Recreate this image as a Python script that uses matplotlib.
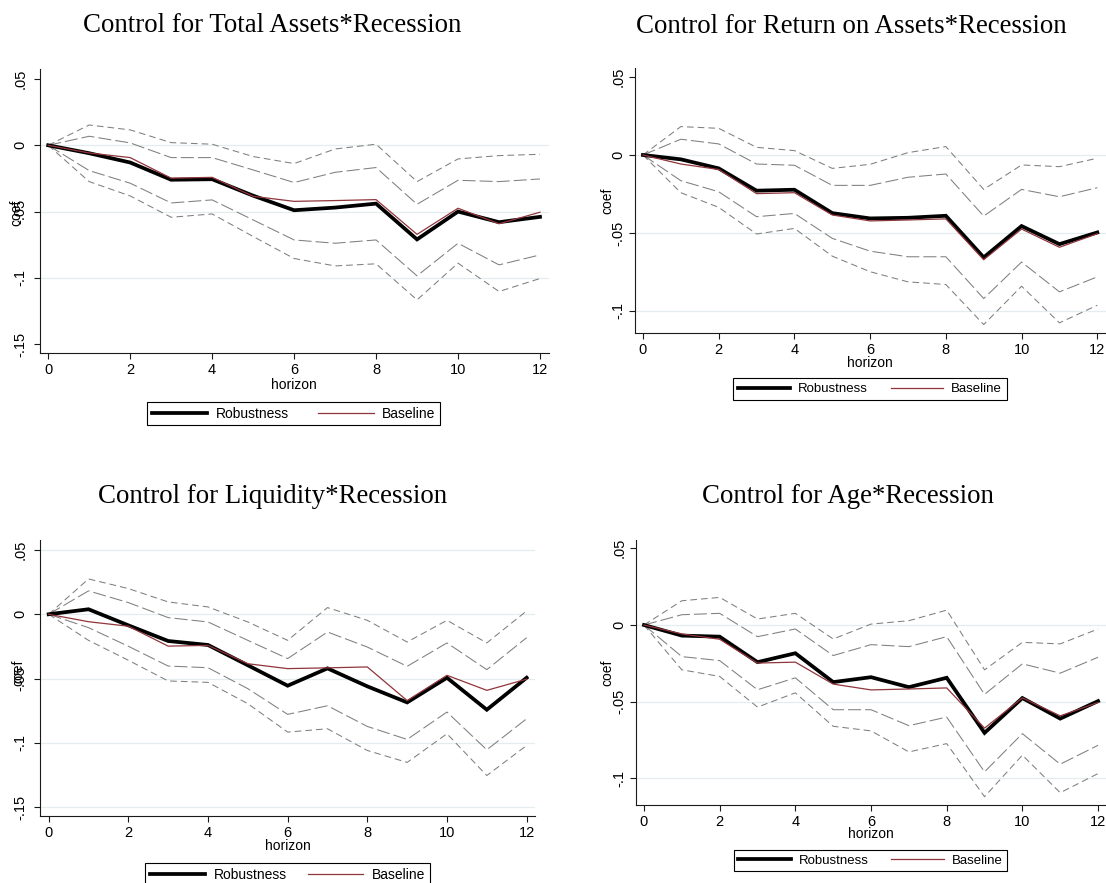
import matplotlib
matplotlib.use("Agg")
import matplotlib.pyplot as plt
from matplotlib.lines import Line2D

plt.rcParams['font.family'] = ['Liberation Sans', 'DejaVu Sans']
plt.rcParams['lines.scale_dashes'] = False

# ---------------------------------------------------------------- data
horizon = list(range(13))
y_ticks_long = [0.05, 0.0, -0.05, -0.1, -0.15]
y_labels_long = [".05", "0", "-.05", "-.1", "-.15"]
y_ticks_short = [0.05, 0.0, -0.05, -0.1]
y_labels_short = [".05", "0", "-.05", "-.1"]
x_ticks = [0, 2, 4, 6, 8, 10, 12]

baseline = [0, -0.0058, -0.0093, -0.0248, -0.0242, -0.0385, -0.0423,
            -0.0417, -0.0410, -0.0672, -0.0475, -0.0592, -0.0505]

# Total assets * recession
ta_coef = [0, -0.0060, -0.0130, -0.0260, -0.0256, -0.0380, -0.0490,
           -0.0470, -0.0440, -0.0710, -0.0500, -0.0580, -0.0540]
ta_hi_out = [0, 0.0153, 0.0116, 0.0020, 0.0008, -0.0085, -0.0138,
             -0.0028, 0.0008, -0.0274, -0.0103, -0.0078, -0.0068]
ta_hi_in = [0, 0.0068, 0.0018, -0.0093, -0.0093, -0.0186, -0.0281,
            -0.0204, -0.0168, -0.0445, -0.0264, -0.0274, -0.0254]
ta_lo_in = [0, -0.0191, -0.0286, -0.0435, -0.0412, -0.0563, -0.0714,
            -0.0739, -0.0714, -0.0985, -0.0739, -0.0902, -0.0827]
ta_lo_out = [0, -0.0274, -0.0382, -0.0543, -0.0518, -0.0688, -0.0854,
             -0.0910, -0.0894, -0.1166, -0.0889, -0.1103, -0.1005]

# Return on assets * recession
roa_coef = [0, -0.0028, -0.0086, -0.0229, -0.0223, -0.0373, -0.0407,
            -0.0403, -0.0390, -0.0657, -0.0456, -0.0572, -0.0497]
roa_hi_out = [0, 0.0182, 0.0171, 0.0049, 0.0028, -0.0086, -0.0060,
              0.0015, 0.0054, -0.0221, -0.0064, -0.0075, -0.0021]
roa_hi_in = [0, 0.0101, 0.0071, -0.0058, -0.0066, -0.0195, -0.0195,
             -0.0143, -0.0122, -0.0392, -0.0221, -0.0268, -0.0210]
roa_lo_in = [0, -0.0165, -0.0236, -0.0396, -0.0375, -0.0535, -0.0617,
             -0.0653, -0.0653, -0.0921, -0.0687, -0.0878, -0.0782]
roa_lo_out = [0, -0.0242, -0.0336, -0.0507, -0.0471, -0.0649, -0.0749,
              -0.0814, -0.0831, -0.1088, -0.0842, -0.1077, -0.0964]

# Liquidity * recession
liq_coef = [0, 0.0039, -0.0086, -0.0208, -0.0239, -0.0397, -0.0556,
            -0.0421, -0.0561, -0.0686, -0.0494, -0.0743, -0.0494]
liq_hi_out = [0, 0.0275, 0.0200, 0.0096, 0.0057, -0.0060, -0.0203,
              0.0052, -0.0047, -0.0216, -0.0047, -0.0223, 0.0026]
liq_hi_in = [0, 0.0182, 0.0091, -0.0026, -0.0060, -0.0203, -0.0345,
             -0.0138, -0.0255, -0.0405, -0.0223, -0.0431, -0.0182]
liq_lo_in = [0, -0.0104, -0.0249, -0.0403, -0.0416, -0.0579, -0.0779,
             -0.0712, -0.0873, -0.0974, -0.0761, -0.1055, -0.0813]
liq_lo_out = [0, -0.0203, -0.0358, -0.0519, -0.0530, -0.0696, -0.0917,
              -0.0891, -0.1060, -0.1153, -0.0930, -0.1255, -0.1021]

# Age * recession
age_coef = [0, -0.0069, -0.0076, -0.0242, -0.0184, -0.0372, -0.0340,
            -0.0405, -0.0344, -0.0703, -0.0476, -0.0610, -0.0496]
age_hi_out = [0, 0.0158, 0.0180, 0.0039, 0.0076, -0.0091, 0.0006,
              0.0028, 0.0097, -0.0292, -0.0113, -0.0123, -0.0026]
age_hi_in = [0, 0.0067, 0.0076, -0.0076, -0.0026, -0.0199, -0.0128,
             -0.0141, -0.0076, -0.0452, -0.0253, -0.0314, -0.0210]
age_lo_in = [0, -0.0206, -0.0232, -0.0422, -0.0344, -0.0552, -0.0552,
             -0.0656, -0.0600, -0.0957, -0.0708, -0.0907, -0.0784]
age_lo_out = [0, -0.0292, -0.0335, -0.0535, -0.0442, -0.0660, -0.0690,
              -0.0827, -0.0773, -0.1119, -0.0848, -0.1093, -0.0968]

# ---------------------------------------------------------------- style
W, H = 1106, 883
BLACK = "#000000"
RED = "#90353B"
GREY = "#7F7F7F"
GRID = "#E3ECEE"
SHORT_DASH = (0, (4.8, 2.9))
LONG_DASH = (0, (9.4, 2.9))

fig = plt.figure(figsize=(W / 100, H / 100), dpi=100)
fig.patch.set_facecolor("white")


def px_axes(left, right, top, bottom):
    return fig.add_axes([left / W, 1 - bottom / H, (right - left) / W,
                         (bottom - top) / H])


panels = [
    dict(title="Control for Total Assets*Recession", title_x=272.5, title_base=32.3,
         box=(40, 549, 69.3, 353.3), xlim=(-0.2, 12.22), ylim=(-0.1569, 0.0573),
         yt=y_ticks_long, yl=y_labels_long, grid=[0.0, -0.05, -0.1],
         coef=ta_coef, bands=(ta_hi_out, ta_hi_in, ta_lo_in, ta_lo_out),
         ylab=(16, 213), xlab_dy=31.7, ypad=4.3, fs=10.5,
         leg=(147, 401.7), leg_fs=10, colsp=2.1),
    dict(title="Control for Return on Assets*Recession", title_x=851.5, title_base=32.7,
         box=(634.5, 1106, 68, 333.3), xlim=(-0.224, 12.23), ylim=(-0.1144, 0.0558),
         yt=y_ticks_short, yl=y_labels_short, grid=[0.0, -0.05, -0.1],
         coef=roa_coef, bands=(roa_hi_out, roa_hi_in, roa_lo_in, roa_lo_out),
         ylab=(607.5, 201), xlab_dy=29.4, ypad=2.0, fs=10.5,
         leg=(733, 378.3), leg_fs=9.5, colsp=1.7),
    dict(title="Control for Liquidity*Recession", title_x=272.8, title_base=503.3,
         box=(40, 535, 540, 816), xlim=(-0.218, 12.21), ylim=(-0.157, 0.0578),
         yt=y_ticks_long, yl=y_labels_long, grid=[0.05, 0.0, -0.05, -0.1, -0.15],
         coef=liq_coef, bands=(liq_hi_out, liq_hi_in, liq_lo_in, liq_lo_out),
         ylab=(18, 673), xlab_dy=30, ypad=4.3, fs=10.5,
         leg=(145, 862.7), leg_fs=10, colsp=1.5),
    dict(title="Control for Age*Recession", title_x=848, title_base=503.3,
         box=(635.9, 1106, 540, 805), xlim=(-0.214, 12.21), ylim=(-0.1173, 0.0554),
         yt=y_ticks_short, yl=y_labels_short, grid=[0.0, -0.05, -0.1],
         coef=age_coef, bands=(age_hi_out, age_hi_in, age_lo_in, age_lo_out),
         ylab=(607.5, 673), xlab_dy=29.3, ypad=2.0, fs=10.5,
         leg=(733.6, 850), leg_fs=9.5, colsp=1.7),
]

for p in panels:
    left, right, top, bottom = p["box"]
    ax = px_axes(left, right, top, bottom)
    ax.set_xlim(*p["xlim"])
    ax.set_ylim(*p["ylim"])
    ax.set_facecolor("white")

    for g in p["grid"]:
        ax.axhline(g, color=GRID, lw=0.9, zorder=0)

    hi_out, hi_in, lo_in, lo_out = p["bands"]
    ax.plot(horizon, hi_out, color=GREY, lw=0.75, linestyle=SHORT_DASH, zorder=2)
    ax.plot(horizon, lo_out, color=GREY, lw=0.75, linestyle=SHORT_DASH, zorder=2)
    ax.plot(horizon, hi_in, color=GREY, lw=0.75, linestyle=LONG_DASH, zorder=2)
    ax.plot(horizon, lo_in, color=GREY, lw=0.75, linestyle=LONG_DASH, zorder=2)
    ax.plot(horizon, p["coef"], color=BLACK, lw=2.7, zorder=3,
            solid_joinstyle="miter")
    ax.plot(horizon, baseline, color=RED, lw=0.9, zorder=4)

    for s in ("top", "right"):
        ax.spines[s].set_visible(False)
    for s in ("left", "bottom"):
        ax.spines[s].set_linewidth(0.8)
        ax.spines[s].set_color("#1a1a1a")

    ax.set_xticks(x_ticks)
    ax.set_xticklabels([str(t) for t in x_ticks])
    ax.set_yticks(p["yt"])
    ax.set_yticklabels(p["yl"], rotation=90, va="center")
    ax.tick_params(axis="x", direction="out", length=4.5, width=0.8,
                   labelsize=p["fs"], pad=2.5, color="#1a1a1a")
    ax.tick_params(axis="y", direction="out", length=4.5, width=0.8,
                   labelsize=p["fs"], pad=p["ypad"], color="#1a1a1a")

    # axis titles
    x6 = left + (6 - p["xlim"][0]) / (p["xlim"][1] - p["xlim"][0]) * (right - left)
    fig.text(x6 / W, 1 - (bottom + p["xlab_dy"]) / H, "horizon",
             ha="center", va="center", fontsize=10)
    fig.text(p["ylab"][0] / W, 1 - p["ylab"][1] / H, "coef", rotation=90,
             ha="center", va="center", fontsize=10)

    # panel title
    fig.text(p["title_x"] / W, 1 - p["title_base"] / H, p["title"],
             ha="center", va="baseline", fontsize=19.4,
             family=["Liberation Serif", "DejaVu Serif"])

    handles = [Line2D([], [], color=BLACK, lw=2.7),
               Line2D([], [], color=RED, lw=0.9)]
    leg = ax.legend(handles, ["Robustness", "Baseline"], ncol=2,
                    loc="upper left",
                    bbox_to_anchor=(p["leg"][0] / W, 1 - p["leg"][1] / H),
                    bbox_transform=fig.transFigure, frameon=True,
                    fancybox=False, edgecolor="black", framealpha=1,
                    fontsize=p["leg_fs"], handlelength=4.0, handletextpad=0.6,
                    columnspacing=p["colsp"], borderpad=0.35, borderaxespad=0)
    leg.get_frame().set_linewidth(0.8)

fig.savefig("out.png", dpi=100, facecolor="white")
